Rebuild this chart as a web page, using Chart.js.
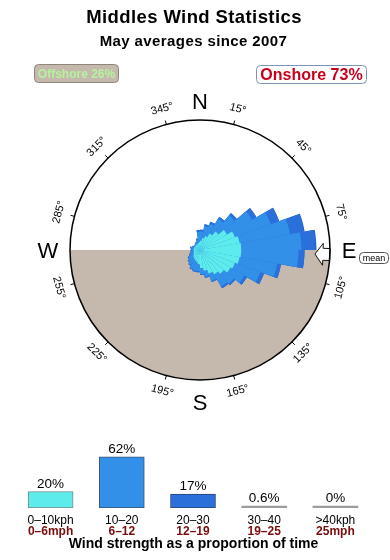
<!DOCTYPE html>
<html>
<head>
<meta charset="utf-8">
<script src="https://cdn.jsdelivr.net/npm/chart.js@4.4.0/dist/chart.umd.min.js"></script>
<style>
html,body{margin:0;padding:0;background:#fff;}
#wrap{position:relative;width:390px;height:560px;overflow:hidden;}
#wrap canvas{position:absolute;left:0;top:0;}
</style>
</head>
<body>
<div id="wrap">
<canvas id="rose" width="390" height="560"></canvas>
<canvas id="bars" width="390" height="560"></canvas>
</div>
<script>
// ---------- data ----------
const directions = ['0°','10°','20°','30°','40°','50°','60°','70°','80°','90°','100°','110°',
  '120°','130°','140°','150°','160°','170°','180°','190°','200°','210°','220°','230°',
  '240°','250°','260°','270°','280°','290°','300°','310°','320°','330°','340°','350°'];
// % of time per 10° direction bin, for each speed band
const speed0to10 = [0.11,0.19,0.29,0.47,0.75,1.25,1.78,2.08,2.19,2.19,2.08,1.78,
  1.60,1.25,1.02,0.81,0.57,0.42,0.26,0.19,0.16,0.13,0.11,0.08,
  0.06,0.05,0.05,0.05,0.05,0.05,0.05,0.05,0.05,0.05,0.06,0.08];
const speed10to20 = [0.32,0.56,0.73,1.22,1.89,3.44,5.54,8.70,11.09,10.32,5.84,3.55,
  1.79,1.27,1.28,0.60,0.38,0.33,0.32,0.39,0.36,0.25,0.19,0.14,
  0.09,0.06,0.04,0.04,0.06,0.02,0.02,0.02,0.04,0.06,0.09,0.34];
const speed20to30 = [0.10,0.13,0.15,0.19,0.36,0.81,1.86,3.57,3.94,1.58,0.83,0.69,
  0.41,0.23,0.22,0.09,0.07,0.06,0.06,0.06,0.05,0.05,0.04,0.04,
  0.03,0.02,0.02,0.02,0.02,0.02,0,0,0,0,0.03,0.10];
const speed30to40 = [0,0,0,0,0,0,0,0.25,0.30,0.05,0,0,
  0,0,0,0,0,0,0,0,0,0,0,0,
  0,0,0,0,0,0,0,0,0,0,0,0];
const bandKph = ['0–10kph','10–20','20–30','30–40','>40kph'];
const bandMph = ['0–6mph','6–12','12–19','19–25','25mph'];
const bandShare = [20, 62, 17, 0.6, 0];
const degreeLabels = [15,45,75,105,135,165,195,225,255,285,315,345];
const offshoreShare = 26;
const onshoreShare = 73;
const meanDirection = 92;

// ---------- styles ----------
const C_CYAN = '#5deceb', C_BLUE = '#3290e8', C_DARK = '#2b70da', C_DEEP = '#2460c8';
const LAND = '#c4b9ac';
const FONT = '"Liberation Sans", Arial, Helvetica, sans-serif';
Chart.defaults.font.family = FONT;

// square-root radial scale (area proportional petals)
class SqrtRadialScale extends Chart.RadialLinearScale {
  getDistanceFromCenterForValue(value) {
    if (value === null || value === undefined || isNaN(value)) return NaN;
    const f = Math.max(0, (value - this.min) / (this.max - this.min));
    return this.drawingArea * Math.sqrt(f);
  }
}
SqrtRadialScale.id = 'sqrtRadial';
Chart.register(SqrtRadialScale);

// cumulative stacks for overlaid polar areas
const cum1 = speed0to10.slice();
const cum2 = cum1.map((v, i) => v + speed10to20[i]);
const cum3 = cum2.map((v, i) => v + speed20to30[i]);
const cum4 = cum3.map((v, i) => v + speed30to40[i]);

function roundRect(ctx, x, y, w, h, r) {
  ctx.beginPath();
  ctx.moveTo(x + r, y);
  ctx.lineTo(x + w - r, y);
  ctx.arcTo(x + w, y, x + w, y + r, r);
  ctx.lineTo(x + w, y + h - r);
  ctx.arcTo(x + w, y + h, x + w - r, y + h, r);
  ctx.lineTo(x + r, y + h);
  ctx.arcTo(x, y + h, x, y + h - r, r);
  ctx.lineTo(x, y + r);
  ctx.arcTo(x, y, x + r, y, r);
  ctx.closePath();
}

const roseDeco = {
  id: 'roseDeco',
  beforeDatasetsDraw(chart) {
    const s = chart.scales.r, ctx = chart.ctx;
    const cx = s.xCenter, cy = s.yCenter, R = s.drawingArea;
    ctx.save();
    ctx.beginPath();
    ctx.moveTo(cx + R, cy);
    ctx.arc(cx, cy, R, 0, Math.PI, false);
    ctx.closePath();
    ctx.fillStyle = LAND;
    ctx.fill();
    ctx.restore();
  },
  afterDatasetsDraw(chart) {
    const s = chart.scales.r, ctx = chart.ctx;
    const cx = s.xCenter, cy = s.yCenter, R = s.drawingArea;
    const rad = d => d * Math.PI / 180;
    const pt = (deg, r, off) => {
      const a = rad(deg);
      return [cx + r * Math.sin(a) + (off || 0) * Math.cos(a),
              cy - r * Math.cos(a) + (off || 0) * Math.sin(a)];
    };
    ctx.save();
    // mean arrow
    const m = meanDirection;
    const shape = [[R - 15, 0], [R - 7, -11], [R - 7, -6], [R, -6], [R, 6], [R - 7, 6], [R - 7, 11]];
    ctx.beginPath();
    shape.forEach((p, i) => {
      const q = pt(m, p[0], p[1]);
      if (i === 0) ctx.moveTo(q[0], q[1]); else ctx.lineTo(q[0], q[1]);
    });
    ctx.closePath();
    ctx.fillStyle = '#fff';
    ctx.fill();
    ctx.strokeStyle = '#111';
    ctx.lineWidth = 1;
    ctx.stroke();
    // outer circle
    ctx.beginPath();
    ctx.arc(cx, cy, R, 0, Math.PI * 2);
    ctx.strokeStyle = '#000';
    ctx.lineWidth = 1.5;
    ctx.stroke();
    // degree ticks + labels
    ctx.fillStyle = '#000';
    ctx.font = '11px ' + FONT;
    ctx.textAlign = 'center';
    ctx.textBaseline = 'middle';
    degreeLabels.forEach(d => {
      const a = pt(d, R), b = pt(d, R + 4);
      ctx.beginPath();
      ctx.moveTo(a[0], a[1]);
      ctx.lineTo(b[0], b[1]);
      ctx.lineWidth = 1;
      ctx.stroke();
      const p = pt(d, R + 16);
      let rot = (d < 90 || d > 270) ? d : d - 180;
      ctx.save();
      ctx.translate(p[0], p[1]);
      ctx.rotate(rad(rot));
      ctx.fillText(d + '°', 0, 0);
      ctx.restore();
    });
    // compass letters
    ctx.font = '22px ' + FONT;
    ctx.textBaseline = 'alphabetic';
    ctx.fillText('N', cx, cy - 141);
    ctx.fillText('S', cx, cy + 160);
    ctx.fillText('E', cx + 149, cy + 8);
    ctx.fillText('W', cx - 152, cy + 8);
    // mean legend
    roundRect(ctx, 359.5, 252.5, 29, 11, 4);
    ctx.fillStyle = '#fff';
    ctx.fill();
    ctx.strokeStyle = '#555';
    ctx.lineWidth = 1;
    ctx.stroke();
    ctx.fillStyle = '#000';
    ctx.font = '9px ' + FONT;
    ctx.textBaseline = 'middle';
    ctx.fillText('mean', 374, 258.5);
    ctx.restore();
  },
  afterDraw(chart) {
    const ctx = chart.ctx;
    ctx.save();
    ctx.textAlign = 'center';
    ctx.textBaseline = 'alphabetic';
    ctx.fillStyle = '#000';
    ctx.font = 'bold 18.5px ' + FONT;
    try { ctx.letterSpacing = '0.4px'; } catch (e) {}
    ctx.fillText('Middles Wind Statistics', 194, 22.5);
    ctx.font = 'bold 15px ' + FONT;
    try { ctx.letterSpacing = '0.4px'; } catch (e) {}
    ctx.fillText('May averages since 2007', 193.5, 46);
    try { ctx.letterSpacing = '0px'; } catch (e) {}
    // offshore / onshore boxes
    roundRect(ctx, 34.5, 64.5, 84, 18, 4);
    ctx.fillStyle = LAND;
    ctx.fill();
    ctx.strokeStyle = '#8e867b';
    ctx.lineWidth = 1;
    ctx.stroke();
    ctx.fillStyle = '#b6f29e';
    ctx.font = 'bold 12px ' + FONT;
    ctx.fillText('Offshore ' + offshoreShare + '%', 76.5, 78);
    roundRect(ctx, 256.5, 65.5, 110, 18, 4);
    ctx.fillStyle = '#fff';
    ctx.fill();
    ctx.strokeStyle = '#7d93b5';
    ctx.stroke();
    ctx.fillStyle = '#c8001e';
    ctx.font = 'bold 16px ' + FONT;
    ctx.fillText('Onshore ' + onshoreShare + '%', 311.5, 80);
    ctx.restore();
  }
};

new Chart(document.getElementById('rose'), {
  type: 'polarArea',
  data: {
    labels: directions,
    datasets: [
      { data: cum1, backgroundColor: C_CYAN, borderWidth: 0 },
      { data: cum2, backgroundColor: C_BLUE, borderWidth: 0 },
      { data: cum3, backgroundColor: C_DARK, borderWidth: 0 },
      { data: cum4, backgroundColor: C_DEEP, borderWidth: 0 }
    ]
  },
  options: {
    responsive: false,
    animation: false,
    layout: { padding: { left: 70, right: 60, top: 120, bottom: 180 } },
    scales: {
      r: {
        type: 'sqrtRadial',
        min: 0,
        max: 21.84,
        startAngle: 0,
        ticks: { display: false },
        grid: { display: false },
        angleLines: { display: false },
        pointLabels: { display: false }
      }
    },
    plugins: { legend: { display: false }, tooltip: { enabled: false } }
  },
  plugins: [roseDeco]
});

// ---------- speed distribution bars ----------
const barDeco = {
  id: 'barDeco',
  afterDatasetsDraw(chart) {
    const ctx = chart.ctx;
    const meta = chart.getDatasetMeta(0);
    const base = chart.scales.y.getPixelForValue(0);
    ctx.save();
    ctx.textAlign = 'center';
    ctx.textBaseline = 'alphabetic';
    meta.data.forEach((bar, i) => {
      ctx.fillStyle = '#000';
      ctx.font = '13.5px ' + FONT;
      ctx.fillText(bandShare[i] + '%', bar.x, Math.min(bar.y, base) - 4);
      ctx.font = '12px ' + FONT;
      ctx.fillText(bandKph[i], bar.x, base + 16);
      ctx.fillStyle = '#7a0c0c';
      ctx.font = 'bold 12px ' + FONT;
      ctx.fillText(bandMph[i], bar.x, base + 27);
    });
    ctx.fillStyle = '#000';
    ctx.font = 'bold 14px ' + FONT;
    ctx.fillText('Wind strength as a proportion of time', 193.5, 548);
    ctx.restore();
  }
};

new Chart(document.getElementById('bars'), {
  type: 'bar',
  data: {
    labels: bandKph,
    datasets: [{
      data: bandShare,
      backgroundColor: [C_CYAN, C_BLUE, C_DARK, '#9c9c9c', '#9c9c9c'],
      borderColor: ['#6f8c8c', '#3a5378', '#2a4170', '#9c9c9c', '#9c9c9c'],
      borderWidth: [1, 1, 1, 0, 0],
      borderSkipped: false,
      barThickness: 45,
      minBarLength: 2
    }]
  },
  options: {
    responsive: false,
    animation: false,
    layout: { padding: { left: 15, right: 19, top: 442, bottom: 52 } },
    scales: {
      x: { display: false },
      y: { display: false, min: 0, max: 80 }
    },
    plugins: { legend: { display: false }, tooltip: { enabled: false } }
  },
  plugins: [barDeco]
});
</script>
</body>
</html>
